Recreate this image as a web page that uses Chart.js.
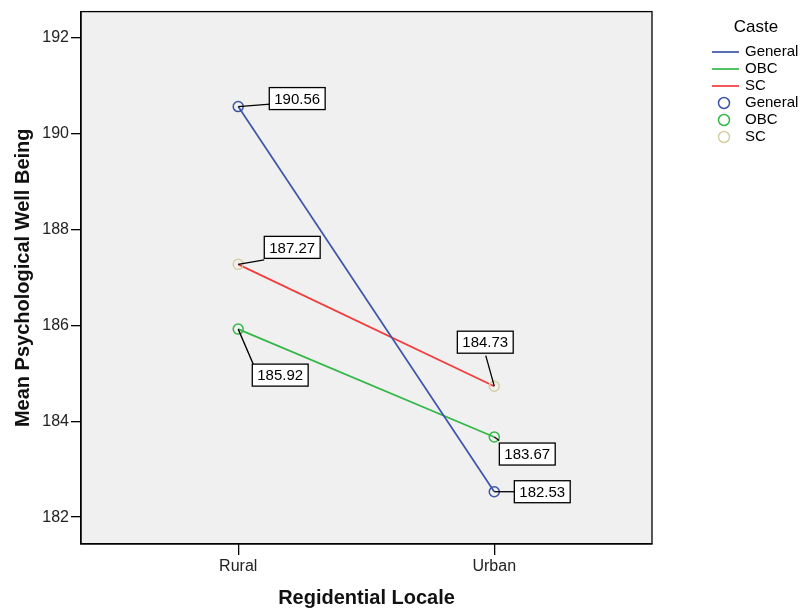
<!DOCTYPE html>
<html>
<head>
<meta charset="utf-8">
<script src="https://cdn.jsdelivr.net/npm/chart.js@4"></script>
<style>
html,body{margin:0;padding:0;background:#fff;}
#wrap{width:803px;height:612px;position:relative;}
</style>
</head>
<body>
<div id="wrap"><canvas id="c" width="803" height="612"></canvas></div>
<script>
// ---- data ----
const categories = ["Rural", "Urban"];
const seriesNames = ["General", "OBC", "SC"];
const generalValues = [190.56, 182.53];
const obcValues = [185.92, 183.67];
const scValues = [187.27, 184.73];
const yTickValues = [182, 184, 186, 188, 190, 192];
const legendTitle = "Caste";
const xTitle = "Regidential Locale";
const yTitle = "Mean Psychological Well Being";

// ---- styles ----
const lineColors = ["#3C55A8", "#33B847", "#F23B3B"];
const markerColors = ["#3C55A8", "#33B847", "#D6CFA0"];
const FONT = "Arial, 'Liberation Sans', sans-serif";

// label box placement (pixel offsets from point): [boxDx, boxDy, lineEndDx, lineEndDy]
const labelOffsets = [
  [[59, -8, 32, -2.5], [48, 0, 22, 0]],      // General
  [[42, 46, 15, 35], [33, 17, 5, 3.5]],      // OBC
  [[54, -17, 26, -4.5], [-9, -44, -8.5, -30.5]] // SC
];

const allSeries = [generalValues, obcValues, scValues];
const toPts = arr => arr.map((v, i) => ({x: i, y: v}));

const datasets = [];
allSeries.forEach((vals, k) => {
  datasets.push({
    label: seriesNames[k], data: toPts(vals), borderColor: lineColors[k],
    borderWidth: 1.7, pointRadius: 0, showLine: true, fill: false, order: 2
  });
});
allSeries.forEach((vals, k) => {
  datasets.push({
    label: seriesNames[k], data: toPts(vals), showLine: false,
    pointRadius: 5, pointBorderWidth: 1.5, pointBorderColor: markerColors[k],
    pointBackgroundColor: "rgba(0,0,0,0)", borderColor: markerColors[k], order: 1
  });
});

const bgPlugin = {
  id: "bg",
  beforeDraw(chart) {
    const {ctx, chartArea: a} = chart;
    ctx.save();
    ctx.fillStyle = "#F0F0F0";
    ctx.fillRect(a.left, a.top, a.right - a.left, a.bottom - a.top);
    ctx.restore();
  },
  afterDatasetsDraw(chart) {
    const {ctx, chartArea: a} = chart;
    ctx.save();
    ctx.strokeStyle = "#000";
    ctx.lineWidth = 1.3;
    ctx.strokeRect(a.left, a.top, a.right - a.left, a.bottom - a.top);
    ctx.restore();
  }
};

const labelPlugin = {
  id: "labels",
  afterDatasetsDraw(chart) {
    const {ctx} = chart;
    const xs = chart.scales.x, ys = chart.scales.y;
    ctx.save();
    ctx.font = "15px " + FONT;
    allSeries.forEach((vals, k) => {
      vals.forEach((v, i) => {
        const px = xs.getPixelForValue(i), py = ys.getPixelForValue(v);
        const [bdx, bdy, ldx, ldy] = labelOffsets[k][i];
        const txt = v.toFixed(2);
        const w = ctx.measureText(txt).width + 10, h = 22;
        const cx = px + bdx, cy = py + bdy;
        ctx.strokeStyle = "#000";
        ctx.lineWidth = 1.3;
        ctx.beginPath();
        ctx.moveTo(px, py);
        ctx.lineTo(px + ldx, py + ldy);
        ctx.stroke();
        ctx.fillStyle = "#fff";
        ctx.fillRect(cx - w / 2, cy - h / 2, w, h);
        ctx.strokeRect(cx - w / 2, cy - h / 2, w, h);
        ctx.fillStyle = "#000";
        ctx.textAlign = "center";
        ctx.textBaseline = "middle";
        ctx.fillText(txt, cx, cy + 1);
      });
    });
    ctx.restore();
  }
};

const legendPlugin = {
  id: "customLegend",
  afterDraw(chart) {
    const {ctx} = chart;
    ctx.save();
    ctx.fillStyle = "#000";
    ctx.textBaseline = "middle";
    ctx.font = "17px " + FONT;
    ctx.textAlign = "center";
    ctx.fillText(legendTitle, 756, 27);
    ctx.font = "15px " + FONT;
    ctx.textAlign = "left";
    let y = 52;
    seriesNames.forEach((n, k) => {
      ctx.strokeStyle = lineColors[k];
      ctx.lineWidth = 1.7;
      ctx.beginPath();
      ctx.moveTo(712, y); ctx.lineTo(739, y); ctx.stroke();
      ctx.fillStyle = "#000";
      ctx.fillText(n, 745, y);
      y += 17;
    });
    seriesNames.forEach((n, k) => {
      ctx.strokeStyle = markerColors[k];
      ctx.lineWidth = 1.5;
      ctx.beginPath();
      ctx.arc(724, y, 5.5, 0, Math.PI * 2); ctx.stroke();
      ctx.fillStyle = "#000";
      ctx.fillText(n, 745, y);
      y += 17;
    });
    ctx.restore();
  }
};

new Chart(document.getElementById("c"), {
  type: "line",
  data: {datasets},
  plugins: [bgPlugin, labelPlugin, legendPlugin],
  options: {
    responsive: false,
    animation: false,
    devicePixelRatio: 1,
    layout: {padding: {left: 0, top: 8, right: 151, bottom: 0}},
    plugins: {legend: {display: false}, tooltip: {enabled: false}},
    scales: {
      x: {
        type: "linear", min: -0.614, max: 1.616,
        afterBuildTicks: s => { s.ticks = categories.map((c, i) => ({value: i})); },
        afterFit: s => { s.height = 68; },
        ticks: {callback: v => categories[v], color: "#222", font: {family: FONT, size: 16}, padding: 2, maxRotation: 0},
        grid: {drawOnChartArea: false, drawTicks: true, tickLength: 11, color: "#000", lineWidth: 1.3},
        border: {display: true, color: "#000", width: 1.3},
        title: {display: true, text: xTitle, color: "#111", font: {family: FONT, size: 20, weight: "bold"}, padding: {top: 0, bottom: 2}}
      },
      y: {
        type: "linear", min: 181.44, max: 192.54,
        afterBuildTicks: s => { s.ticks = yTickValues.map(v => ({value: v})); },
        afterFit: s => { s.width = 81; },
        ticks: {color: "#222", font: {family: FONT, size: 16}, padding: 2},
        grid: {drawOnChartArea: false, drawTicks: true, tickLength: 10, color: "#000", lineWidth: 1.3},
        border: {display: true, color: "#000", width: 1.3},
        title: {display: true, text: yTitle, color: "#111", font: {family: FONT, size: 20, weight: "bold"}, padding: {top: 11, bottom: 0}}
      }
    }
  }
});
</script>
</body>
</html>
